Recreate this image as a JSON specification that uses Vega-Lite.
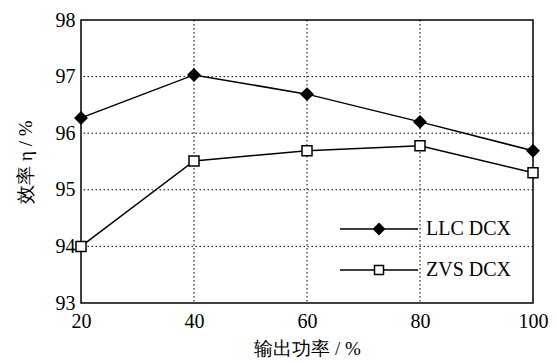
{
  "$schema": "https://vega.github.io/schema/vega-lite/v6.json",
  "width": 452,
  "height": 283,
  "autosize": {"type": "none"},
  "padding": {"left": 81, "top": 20, "right": 24, "bottom": 60},
  "background": "white",
  "config": {
    "view": {"stroke": "black", "strokeWidth": 1.5}
  },
  "data": {
    "values": [
      {"series": "LLC DCX", "power": 20, "eff": 96.27},
      {"series": "LLC DCX", "power": 40, "eff": 97.03},
      {"series": "LLC DCX", "power": 60, "eff": 96.69},
      {"series": "LLC DCX", "power": 80, "eff": 96.2},
      {"series": "LLC DCX", "power": 100, "eff": 95.69},
      {"series": "ZVS DCX", "power": 20, "eff": 94.0},
      {"series": "ZVS DCX", "power": 40, "eff": 95.51},
      {"series": "ZVS DCX", "power": 60, "eff": 95.69},
      {"series": "ZVS DCX", "power": 80, "eff": 95.78},
      {"series": "ZVS DCX", "power": 100, "eff": 95.3}
    ]
  },
  "layer": [
    {"data": {"values": [{}]}, "mark": {"type": "rule", "color": "black", "strokeWidth": 1, "strokeDash": [1.5, 2.5]}, "encoding": {"x": {"datum": 40, "type": "quantitative", "scale": {"domain": [20, 100], "nice": false, "zero": false}}}},
    {"data": {"values": [{}]}, "mark": {"type": "rule", "color": "black", "strokeWidth": 1, "strokeDash": [1.5, 2.5]}, "encoding": {"x": {"datum": 60, "type": "quantitative", "scale": {"domain": [20, 100], "nice": false, "zero": false}}}},
    {"data": {"values": [{}]}, "mark": {"type": "rule", "color": "black", "strokeWidth": 1, "strokeDash": [1.5, 2.5]}, "encoding": {"x": {"datum": 80, "type": "quantitative", "scale": {"domain": [20, 100], "nice": false, "zero": false}}}},
    {"data": {"values": [{}]}, "mark": {"type": "rule", "color": "black", "strokeWidth": 1, "strokeDash": [1.5, 2.5]}, "encoding": {"y": {"datum": 94, "type": "quantitative", "scale": {"domain": [93, 98], "nice": false, "zero": false}}}},
    {"data": {"values": [{}]}, "mark": {"type": "rule", "color": "black", "strokeWidth": 1, "strokeDash": [1.5, 2.5]}, "encoding": {"y": {"datum": 95, "type": "quantitative", "scale": {"domain": [93, 98], "nice": false, "zero": false}}}},
    {"data": {"values": [{}]}, "mark": {"type": "rule", "color": "black", "strokeWidth": 1, "strokeDash": [1.5, 2.5]}, "encoding": {"y": {"datum": 96, "type": "quantitative", "scale": {"domain": [93, 98], "nice": false, "zero": false}}}},
    {"data": {"values": [{}]}, "mark": {"type": "rule", "color": "black", "strokeWidth": 1, "strokeDash": [1.5, 2.5]}, "encoding": {"y": {"datum": 97, "type": "quantitative", "scale": {"domain": [93, 98], "nice": false, "zero": false}}}},
    {
      "mark": {"type": "line", "color": "black", "strokeWidth": 1.5},
      "encoding": {
        "x": {
          "field": "power", "type": "quantitative",
          "scale": {"domain": [20, 100], "nice": false, "zero": false},
          "axis": {"values": [20, 40, 60, 80, 100], "format": "d", "title": "输出功率 / %", "labelPadding": 8, "titlePadding": 8, "labelFlush": false,
            "labelFont": "Liberation Serif", "labelFontSize": 20, "labelColor": "black",
            "titleFont": "Liberation Serif", "titleFontSize": 19, "titleColor": "black", "titleFontWeight": "normal",
            "grid": false, "domain": false, "ticks": false}
        },
        "y": {
          "field": "eff", "type": "quantitative",
          "scale": {"domain": [93, 98], "nice": false, "zero": false},
          "axis": {"values": [93, 94, 95, 96, 97, 98], "format": "d", "title": "效率 η / %", "labelPadding": 6, "titlePadding": 20, "labelFlush": false,
            "labelFont": "Liberation Serif", "labelFontSize": 20, "labelColor": "black",
            "titleFont": "Liberation Serif", "titleFontSize": 19, "titleColor": "black", "titleFontWeight": "normal",
            "grid": false, "domain": false, "ticks": false}
        },
        "detail": {"field": "series"}
      }
    },
    {
      "mark": {"type": "point", "stroke": "black", "strokeWidth": 1.5, "opacity": 1},
      "encoding": {
        "x": {"field": "power", "type": "quantitative", "scale": {"domain": [20, 100], "nice": false, "zero": false}},
        "y": {"field": "eff", "type": "quantitative", "scale": {"domain": [93, 98], "nice": false, "zero": false}},
        "shape": {"condition": {"test": "datum.series === 'LLC DCX'", "value": "diamond"}, "value": "square"},
        "size": {"condition": {"test": "datum.series === 'LLC DCX'", "value": 140}, "value": 100},
        "fill": {"condition": {"test": "datum.series === 'LLC DCX'", "value": "black"}, "value": "white"}
      }
    },
    {
      "transform": [{"filter": "false"}],
      "mark": {"type": "point", "filled": true, "fill": "black", "stroke": "black", "strokeWidth": 1.5, "opacity": 1},
      "encoding": {
        "shape": {
          "field": "series", "type": "nominal",
          "scale": {"domain": ["LLC DCX"], "range": ["M-2.6,0H2.6M0,-0.36L0.36,0L0,0.36L-0.36,0Z"]},
          "legend": {
            "title": null, "orient": "none", "legendX": 282, "legendY": 193, "padding": 0,
            "symbolSize": 900, "symbolStrokeWidth": 1.5, "labelOffset": 31,
            "labelFont": "Liberation Serif", "labelFontSize": 20, "labelColor": "black"
          }
        }
      }
    },
    {
      "transform": [{"filter": "false"}],
      "mark": {"type": "point", "filled": true, "fill": "white", "stroke": "black", "strokeWidth": 1.5, "opacity": 1},
      "encoding": {
        "shape": {
          "field": "series", "type": "nominal",
          "scale": {"domain": ["ZVS DCX"], "range": ["M-2.6,0H-0.3M0.3,0H2.6M-0.3,-0.3H0.3V0.3H-0.3Z"]},
          "legend": {
            "title": null, "orient": "none", "legendX": 282, "legendY": 234, "padding": 0,
            "symbolSize": 900, "symbolStrokeWidth": 1.5, "labelOffset": 31,
            "labelFont": "Liberation Serif", "labelFontSize": 20, "labelColor": "black"
          }
        }
      }
    }
  ],
  "resolve": {"scale": {"shape": "independent"}, "legend": {"shape": "independent"}}
}
